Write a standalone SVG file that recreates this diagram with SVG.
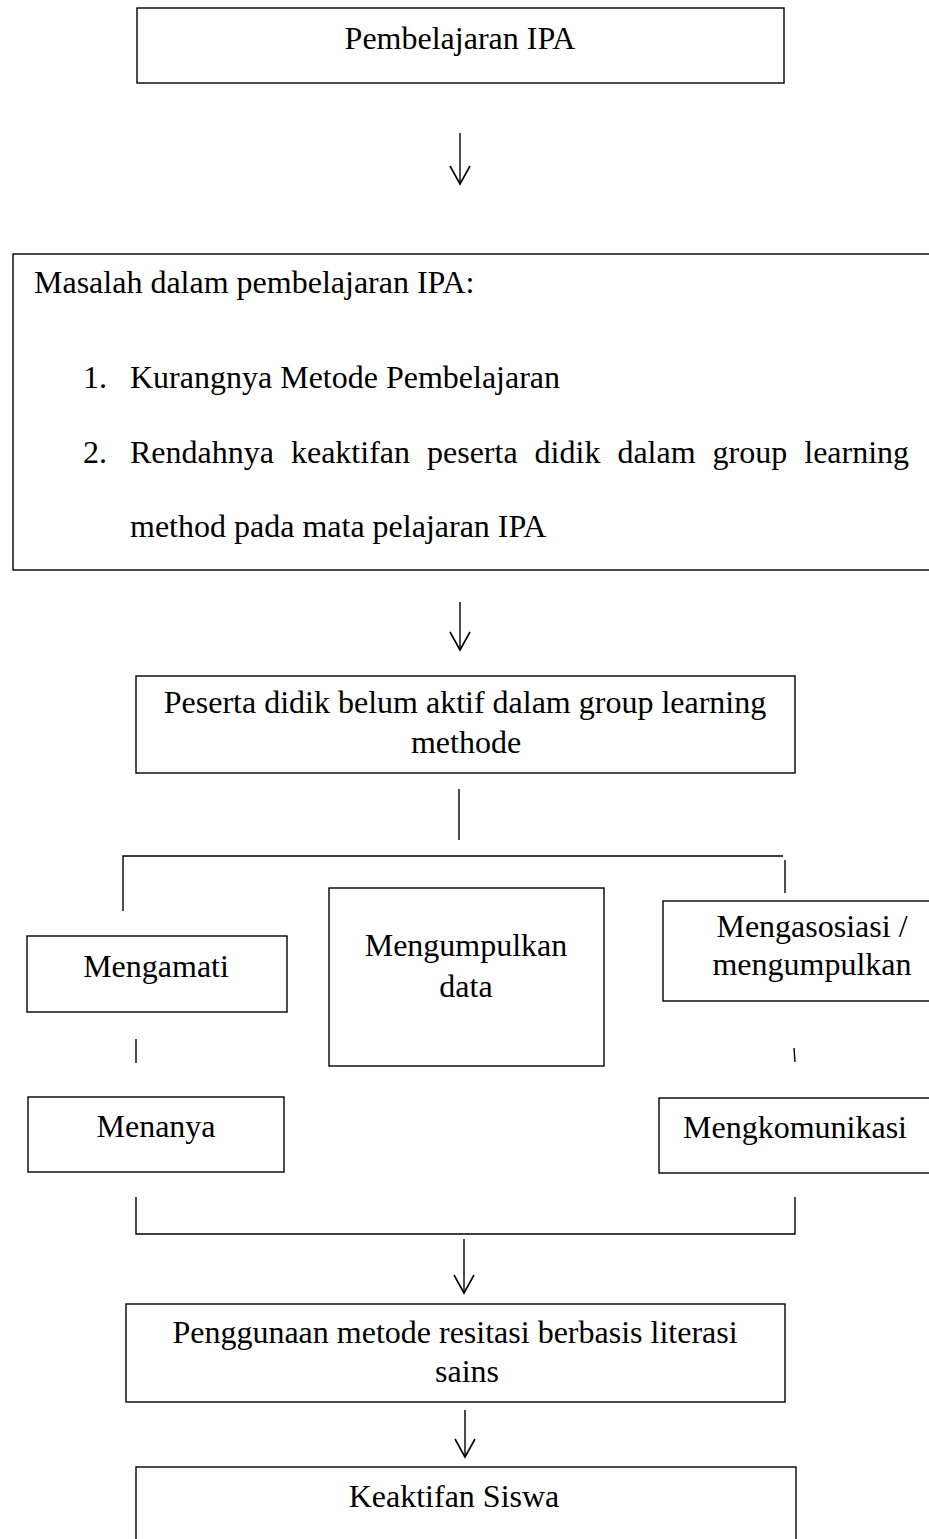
<svg xmlns="http://www.w3.org/2000/svg" width="929" height="1539" viewBox="0 0 929 1539">
<style>
.box{fill:#fff;stroke:#000;stroke-width:1.4}
.ln{fill:none;stroke:#000;stroke-width:1.4}
text{font-family:"Liberation Serif","Times New Roman",serif;font-size:32px;fill:#000}
.c{text-anchor:middle}
</style>
<defs>
<marker id="ah" markerUnits="userSpaceOnUse" viewBox="-20 -12 22 24" refX="0" refY="0" markerWidth="22" markerHeight="24" orient="auto" overflow="visible">
<path d="M-18,-10 L0,0 L-18,10" fill="none" stroke="#000" stroke-width="1.6"/>
</marker>
</defs>
<rect width="929" height="1539" fill="#fff"/>

<g id="connectors">
<line class="ln" x1="460" y1="133" x2="460" y2="184" marker-end="url(#ah)"/>
<line class="ln" x1="460" y1="602" x2="460" y2="650" marker-end="url(#ah)"/>
<line class="ln" x1="459" y1="789" x2="459" y2="840"/>
<path class="ln" d="M123,911 V856 H783"/>
<line class="ln" x1="785" y1="860" x2="785" y2="893"/>
<line class="ln" x1="136" y1="1039" x2="136" y2="1063"/>
<line class="ln" x1="794" y1="1048" x2="795" y2="1062"/>
<path class="ln" d="M136,1197 V1234 H795 V1197"/>
<line class="ln" x1="464" y1="1239" x2="464" y2="1293" marker-end="url(#ah)"/>
<line class="ln" x1="465" y1="1410" x2="465" y2="1457" marker-end="url(#ah)"/>
</g>

<g id="n-pembelajaran">
<rect class="box" x="137" y="8" width="647" height="75"/>
<text class="c" x="460" y="49">Pembelajaran IPA</text>
</g>

<g id="n-masalah">
<rect class="box" x="13" y="254" width="950" height="316"/>
<text x="34" y="293">Masalah dalam pembelajaran IPA:</text>
<text x="83" y="388">1.</text>
<text x="130" y="388">Kurangnya Metode Pembelajaran</text>
<text x="83" y="463">2.</text>
<text x="130" y="463" word-spacing="9">Rendahnya keaktifan peserta didik dalam group learning</text>
<text x="130" y="537">method pada mata pelajaran IPA</text>
</g>

<g id="n-peserta">
<rect class="box" x="136" y="676" width="659" height="97"/>
<text class="c" x="465" y="713">Peserta didik belum aktif dalam group learning</text>
<text class="c" x="466" y="753">methode</text>
</g>

<g id="n-mengamati">
<rect class="box" x="27" y="936" width="260" height="76"/>
<text class="c" x="156" y="977">Mengamati</text>
</g>

<g id="n-mengumpulkan-data">
<rect class="box" x="329" y="888" width="275" height="178"/>
<text class="c" x="466" y="956">Mengumpulkan</text>
<text class="c" x="466" y="997">data</text>
</g>

<g id="n-mengasosiasi">
<rect class="box" x="663" y="901" width="300" height="100"/>
<text class="c" x="812" y="937">Mengasosiasi /</text>
<text class="c" x="812" y="975">mengumpulkan</text>
</g>

<g id="n-menanya">
<rect class="box" x="28" y="1097" width="256" height="75"/>
<text class="c" x="156" y="1137">Menanya</text>
</g>

<g id="n-mengkomunikasi">
<rect class="box" x="659" y="1098" width="300" height="75"/>
<text class="c" x="795" y="1138">Mengkomunikasi</text>
</g>

<g id="n-penggunaan">
<rect class="box" x="126" y="1304" width="659" height="98"/>
<text class="c" x="455" y="1343">Penggunaan metode resitasi berbasis literasi</text>
<text class="c" x="467" y="1382">sains</text>
</g>

<g id="n-keaktifan">
<rect class="box" x="136" y="1467" width="660" height="100"/>
<text class="c" x="454" y="1507">Keaktifan Siswa</text>
</g>
</svg>
